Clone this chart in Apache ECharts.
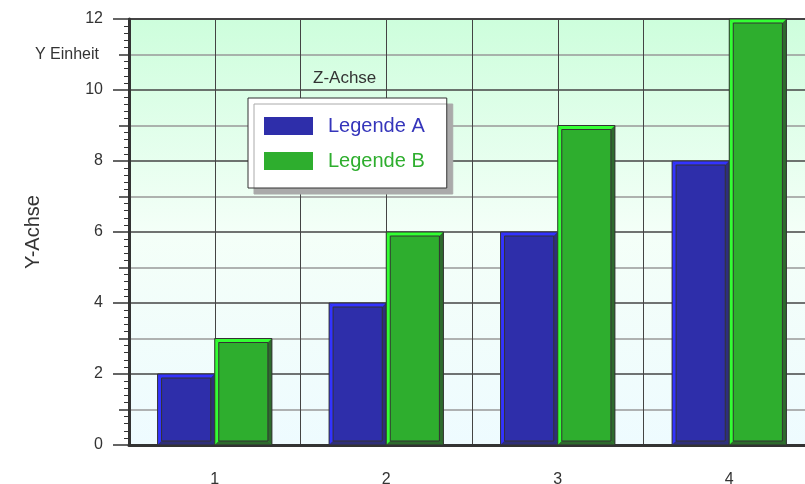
<!DOCTYPE html>
<html>
<head>
<meta charset="utf-8">
<script src="https://cdn.jsdelivr.net/npm/echarts@6/dist/echarts.min.js"></script>
<style>
  html, body { margin: 0; padding: 0; background: #fff; }
  #chart { width: 805px; height: 484px; }
</style>
</head>
<body>
<div id="chart"></div>
<script>
// Daten
var categories = ['1', '2', '3', '4'];
var valuesA = [2, 4, 6, 8];
var valuesB = [3, 6, 9, 12];
var seriesNames = ['Legende A', 'Legende B'];
var yTickLabels = { 0: '0', 2: '2', 4: '4', 6: '6', 8: '8', 10: '10', 12: '12' };
var yUnitLabel = 'Y Einheit';

var FONT = '"Liberation Sans", Arial, sans-serif';

// Balken mit 3D-Kante (hell oben/links, dunkel unten/rechts)
function bevelBar(side, fill, light, dark) {
    return function (params, api) {
        var cat = api.value(0), v = api.value(1);
        var top = api.coord([cat, v]);
        var base = api.coord([cat, 0]);
        var bw = api.size([1, 0])[0] / 3;
        var x0 = side < 0 ? top[0] - bw : top[0];
        var x1 = x0 + bw;
        var y0 = top[1], y1 = base[1];
        var b = 4;
        return {
            type: 'group',
            children: [
                { type: 'rect', shape: { x: x0, y: y0, width: bw, height: y1 - y0 }, style: { fill: fill } },
                { type: 'polygon', shape: { points: [[x0, y0], [x1, y0], [x1 - b, y0 + b], [x0 + b, y0 + b]] }, style: { fill: light } },
                { type: 'polygon', shape: { points: [[x0, y0], [x0 + b, y0 + b], [x0 + b, y1 - b], [x0, y1]] }, style: { fill: light } },
                { type: 'polygon', shape: { points: [[x1, y0], [x1, y1], [x1 - b, y1 - b], [x1 - b, y0 + b]] }, style: { fill: dark } },
                { type: 'polygon', shape: { points: [[x0, y1], [x1, y1], [x1 - b, y1 - b], [x0 + b, y1 - b]] }, style: { fill: dark } },
                { type: 'rect', shape: { x: x0 + b, y: y0 + b, width: bw - 2 * b, height: y1 - y0 - 2 * b }, style: { fill: 'none', stroke: '#333', lineWidth: 1 } },
                { type: 'rect', shape: { x: x0, y: y0, width: bw, height: y1 - y0 }, style: { fill: 'none', stroke: '#333', lineWidth: 1 } }
            ]
        };
    };
}

var chart = echarts.init(document.getElementById('chart'));
var option = {
    backgroundColor: '#fff',
    animation: false,
    textStyle: { fontFamily: FONT },
    grid: {
        left: 129, top: 19, width: 686, height: 426,
        outerBoundsMode: 'none',
        containLabel: false,
        show: true,
        borderColor: '#444', borderWidth: 2,
        backgroundColor: new echarts.graphic.LinearGradient(0, 0, 0, 1, [
            { offset: 0, color: '#CDFEDC' },
            { offset: 0.5, color: '#F4FFF8' },
            { offset: 1, color: '#EEFBFF' }
        ])
    },
    legend: {
        orient: 'vertical',
        left: 248, top: 98,
        padding: [18, 22, 17, 16],
        itemWidth: 49, itemHeight: 18, itemGap: 15,
        icon: 'rect',
        backgroundColor: '#fff',
        borderColor: '#333', borderWidth: 1,
        shadowColor: '#aaa', shadowBlur: 0, shadowOffsetX: 6, shadowOffsetY: 6,
        textStyle: { fontSize: 20, lineHeight: 18, fontFamily: FONT, padding: [0, 0, 0, 10] },
        data: [
            { name: seriesNames[0], itemStyle: { color: '#2E2EAA' }, textStyle: { color: '#3535BB' } },
            { name: seriesNames[1], itemStyle: { color: '#2EAE2E' }, textStyle: { color: '#2EAE2E' } }
        ]
    },
    graphic: [{
        type: 'text', left: 313, top: 70,
        style: { text: 'Z-Achse', fontSize: 17, fontFamily: FONT, fill: '#333' }
    }],
    xAxis: [{
        type: 'category',
        data: categories,
        axisLine: { lineStyle: { color: '#333', width: 3 } },
        axisTick: { alignWithLabel: true, length: 17, lineStyle: { color: '#888', width: 2 } },
        axisLabel: { fontSize: 16, color: '#333', margin: 27, fontFamily: FONT },
        splitLine: { show: false }
    }, {
        type: 'value', position: 'top',
        min: 0, max: 8, interval: 1,
        axisLine: { show: false }, axisTick: { show: false }, axisLabel: { show: false },
        splitLine: { show: true, lineStyle: { color: '#444', width: 1 } }
    }],
    yAxis: [{
        type: 'value',
        min: 0, max: 12, interval: 2,
        name: 'Y-Achse',
        nameLocation: 'middle', nameGap: 86, nameRotate: 90,
        nameTextStyle: { fontSize: 20, color: '#333', fontFamily: FONT },
        axisLine: { show: true, lineStyle: { color: '#333', width: 3 } },
        axisTick: { length: 16, lineStyle: { color: '#333', width: 1.5 } },
        axisLabel: {
            fontSize: 16, color: '#333', margin: 26, fontFamily: FONT,
            formatter: function (v) { return yTickLabels[v] !== undefined ? yTickLabels[v] : ''; }
        },
        splitLine: { show: false }
    }, {
        type: 'value', position: 'left',
        min: 0, max: 12, interval: 1,
        axisLine: { show: false },
        axisTick: { length: 10, lineStyle: { color: '#333', width: 1.5 } },
        minorTick: { show: true, splitNumber: 5, length: 5, lineStyle: { color: '#333', width: 1 } },
        axisLabel: {
            fontSize: 16, color: '#333', margin: 30, fontFamily: FONT,
            formatter: function (v) { return v === 11 ? yUnitLabel : ''; }
        },
        splitLine: { show: true, lineStyle: { color: ['#444', '#999'], width: 1.5 } }
    }],
    series: [{
        name: seriesNames[0],
        type: 'custom',
        itemStyle: { color: '#2E2EAA' },
        renderItem: bevelBar(-1, '#2E2EAA', '#3333FF', '#2F2F7A'),
        data: valuesA.map(function (v, i) { return [i, v]; }),
        encode: { x: 0, y: 1 }
    }, {
        name: seriesNames[1],
        type: 'custom',
        itemStyle: { color: '#2EAE2E' },
        renderItem: bevelBar(1, '#2EAE2E', '#33FF33', '#2E6B2E'),
        data: valuesB.map(function (v, i) { return [i, v]; }),
        encode: { x: 0, y: 1 }
    }]
};
chart.setOption(option);
</script>
</body>
</html>
